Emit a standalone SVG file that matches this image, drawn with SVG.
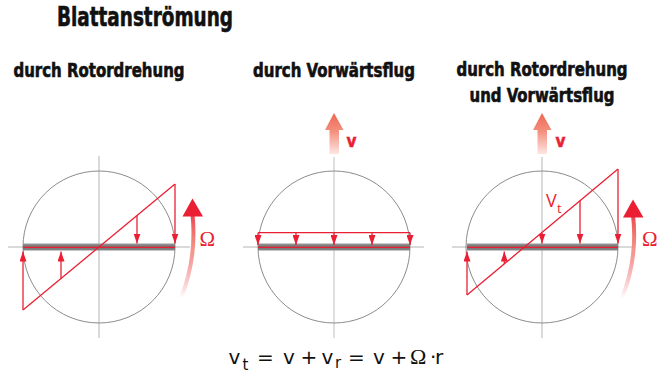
<svg xmlns="http://www.w3.org/2000/svg" width="668" height="373" viewBox="0 0 668 373">
<defs>
<style>
.title{font-family:"Liberation Sans Narrow","DejaVu Sans Condensed","Liberation Sans",sans-serif;font-weight:bold;fill:#111;stroke:#111;stroke-width:0.6;}
.rotor{fill:none;stroke:#8c8c8c;stroke-width:1;}
.axis{stroke:#b4b4b4;stroke-width:1;}
.axisl{stroke:#d4d4d4;stroke-width:1.5;}
.blade{fill:#7f7f7f;}
.red{stroke:#ea1f34;stroke-width:1.3;fill:none;}
.lbl{font-family:"Liberation Sans Narrow","DejaVu Sans Condensed","Liberation Sans",sans-serif;font-weight:bold;fill:#ea1f34;stroke:#ea1f34;stroke-width:0.5;}
.om{font-family:"Liberation Serif",serif;fill:#ea1f34;font-size:21px;}
.vt{font-family:"Open Sans","DejaVu Sans",sans-serif;fill:#ea1f34;}
.f{font-family:"DejaVu Sans",sans-serif;fill:#111;font-size:20px;}
</style>
<marker id="ahd" markerUnits="userSpaceOnUse" markerWidth="10" markerHeight="7" refX="10" refY="3.5" orient="auto" viewBox="0 0 10 7">
<path d="M0,0 L10,3.5 L0,7 z" fill="#ea1f34"/>
</marker>
<linearGradient id="vg" x1="0" y1="0" x2="0" y2="1">
<stop offset="0" stop-color="#ef6651"/>
<stop offset="0.45" stop-color="#f3907f"/>
<stop offset="1" stop-color="#fde6e2"/>
</linearGradient>
<linearGradient id="og1" gradientUnits="userSpaceOnUse" x1="0" y1="298" x2="0" y2="200">
<stop offset="0" stop-color="#ea1f34" stop-opacity="0"/>
<stop offset="0.5" stop-color="#f07a6a" stop-opacity="0.8"/>
<stop offset="1" stop-color="#ea1f34"/>
</linearGradient>
<linearGradient id="bg" x1="0" y1="0" x2="0" y2="1">
<stop offset="0" stop-color="#9a9a9a"/>
<stop offset="0.5" stop-color="#6e6e6e"/>
<stop offset="1" stop-color="#8a8a8a"/>
</linearGradient>
</defs>
<rect width="668" height="373" fill="#fff"/>

<g id="title">
<text class="title" x="57" y="26" font-size="26" textLength="176" lengthAdjust="spacingAndGlyphs">Blattanströmung</text>
</g>

<g id="panel1">
<text class="title" x="99" y="76.5" font-size="19" text-anchor="middle" textLength="171" lengthAdjust="spacingAndGlyphs">durch Rotordrehung</text>
<line class="axis" x1="99" y1="156" x2="99" y2="338"/>
<line class="axis" x1="8" y1="247" x2="190" y2="247"/>
<circle class="rotor" cx="99" cy="247" r="76"/>
<rect x="23" y="243.5" width="152" height="7" fill="url(#bg)"/>
<line class="red" x1="23" y1="247.3" x2="175" y2="247.3"/>
<line class="red" x1="23" y1="310" x2="175" y2="184"/>
<line class="red" x1="23" y1="310" x2="23" y2="251.5" marker-end="url(#ahd)"/>
<line class="red" x1="61" y1="278.5" x2="61" y2="251.5" marker-end="url(#ahd)"/>
<line class="red" x1="137" y1="215.5" x2="137" y2="243.5" marker-end="url(#ahd)"/>
<line class="red" x1="175" y1="184" x2="175" y2="243.5" marker-end="url(#ahd)"/>
<path d="M181,298 Q197,258 192.5,214" fill="none" stroke="url(#og1)" stroke-width="4"/>
<polygon points="192.5,198.5 203,216.5 182.5,216.5" fill="#ea1f34"/>
<text class="om" x="199.5" y="245.5">Ω</text>
</g>

<g id="panel2">
<text class="title" x="334" y="76.5" font-size="19" text-anchor="middle" textLength="162" lengthAdjust="spacingAndGlyphs">durch Vorwärtsflug</text>
<polygon points="334,113 343.5,130 339,130 339,154 329.5,154 329.5,130 325,130" fill="url(#vg)"/>
<text class="lbl" x="346.5" y="146.5" font-size="17">v</text>
<line class="axisl" x1="334" y1="157" x2="334" y2="338"/>
<line class="axis" x1="243" y1="247" x2="424" y2="247"/>
<circle class="rotor" cx="334" cy="247" r="76"/>
<rect x="258" y="243.5" width="152" height="7" fill="url(#bg)"/>
<line class="red" x1="258" y1="247.3" x2="410" y2="247.3"/>
<line class="red" x1="258" y1="232.7" x2="410" y2="232.7"/>
<line class="red" x1="258" y1="232.7" x2="258" y2="245" marker-end="url(#ahd)"/>
<line class="red" x1="296" y1="232.7" x2="296" y2="245" marker-end="url(#ahd)"/>
<line class="red" x1="334" y1="232.7" x2="334" y2="245" marker-end="url(#ahd)"/>
<line class="red" x1="372" y1="232.7" x2="372" y2="245" marker-end="url(#ahd)"/>
<line class="red" x1="410" y1="232.7" x2="410" y2="245" marker-end="url(#ahd)"/>
</g>

<g id="panel3">
<text class="title" x="542" y="76" font-size="19" text-anchor="middle" textLength="171" lengthAdjust="spacingAndGlyphs">durch Rotordrehung</text>
<text class="title" x="542" y="101.5" font-size="19" text-anchor="middle" textLength="145" lengthAdjust="spacingAndGlyphs">und Vorwärtsflug</text>
<polygon points="542,113 551.5,130 547,130 547,154 537.5,154 537.5,130 533,130" fill="url(#vg)"/>
<text class="lbl" x="555.5" y="146.5" font-size="17">v</text>
<line class="axis" x1="542" y1="157" x2="542" y2="338"/>
<line class="axis" x1="452" y1="247" x2="633" y2="247"/>
<circle class="rotor" cx="542" cy="247" r="76"/>
<rect x="467" y="243.5" width="151" height="7" fill="url(#bg)"/>
<line class="red" x1="467" y1="247.3" x2="618" y2="247.3"/>
<line class="red" x1="467" y1="295" x2="618" y2="169"/>
<line class="red" x1="467" y1="295" x2="467" y2="251.5" marker-end="url(#ahd)"/>
<line class="red" x1="504.3" y1="263.8" x2="504.3" y2="251.5" marker-end="url(#ahd)"/>
<line class="red" x1="542" y1="232.4" x2="542" y2="243.5" marker-end="url(#ahd)"/>
<line class="red" x1="580" y1="200.7" x2="580" y2="243.5" marker-end="url(#ahd)"/>
<line class="red" x1="618" y1="169" x2="618" y2="243.5" marker-end="url(#ahd)"/>
<text class="vt" x="546" y="206.7" font-size="18">V<tspan font-size="13" x="557" y="213.3">t</tspan></text>
<path d="M622,298 Q638,258 633,215" fill="none" stroke="url(#og1)" stroke-width="4"/>
<polygon points="633,199.5 643.5,217.5 623,217.5" fill="#ea1f34"/>
<text class="om" x="642" y="245.5">Ω</text>
</g>

<g id="formula">
<text class="f" y="363.5"><tspan x="228.5">v</tspan><tspan x="242.5" y="369.5" font-size="15">t</tspan><tspan x="257" y="363.5">=</tspan><tspan x="283">v</tspan><tspan x="300.5">+</tspan><tspan x="321.5">v</tspan><tspan x="335" y="368" font-size="15">r</tspan><tspan x="348" y="363.5">=</tspan><tspan x="373">v</tspan><tspan x="390.5">+</tspan><tspan x="410" font-family="Liberation Serif, serif" font-size="22">Ω</tspan><tspan x="430">·</tspan><tspan x="435">r</tspan></text>
</g>
</svg>
